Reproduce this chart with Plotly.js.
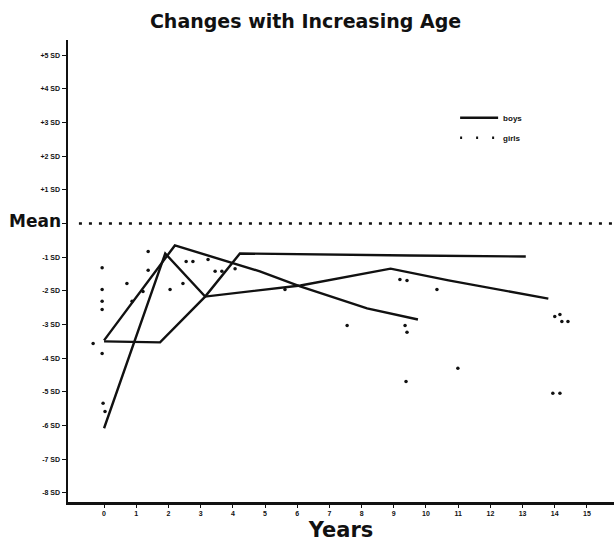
<!DOCTYPE html>
<html><head><meta charset="utf-8">
<script src="https://cdn.plot.ly/plotly-3.0.1.min.js"></script>
<style>html,body{margin:0;padding:0;background:#fff}#chart{width:614px;height:545px}</style>
</head><body><div id="chart"></div>
<script>
// Boys curves (age in years, SD score)
const boysAx = [0, 1.9, 3.14, 4.84, 6.1, 8.9, 10.7, 13.8];
const boysAy = [-6.08, -0.89, -2.17, -1.99, -1.84, -1.34, -1.69, -2.23];
const boysBx = [0, 1.74, 3.14, 4.22, 9.5, 13.1];
const boysBy = [-3.5, -3.53, -2.17, -0.89, -0.95, -0.98];
const boysCx = [0, 2.2, 4.84, 6.09, 8.17, 9.75];
const boysCy = [-3.47, -0.65, -1.42, -1.87, -2.52, -2.85];
// Girls individual points
const girlsX = [1.37, 1.37, -0.06, -0.06, -0.06, -0.06, 0.71, 1.21, 0.87, 2.05, 2.55, 2.76, 3.23, 2.45, 3.45, 3.66, 4.07, -0.34, -0.06, -0.03, 0.03, 5.62, 9.19, 9.41, 10.34, 7.55, 9.35, 9.41, 9.38, 14.0, 14.16, 14.22, 14.41, 10.99, 13.94, 14.16];
const girlsY = [-0.83, -1.39, -1.31, -1.96, -2.31, -2.55, -1.78, -2.02, -2.31, -1.96, -1.13, -1.13, -1.07, -1.78, -1.42, -1.42, -1.34, -3.56, -3.86, -5.34, -5.58, -1.96, -1.66, -1.69, -1.96, -3.03, -3.03, -3.23, -4.69, -2.76, -2.70, -2.91, -2.91, -4.30, -5.04, -5.04];
// Axis ticks
const xTicks = [0,1,2,3,4,5,6,7,8,9,10,11,12,13,14,15];
const yTickVals = [5,4,3,2,1,0,-1,-2,-3,-4,-5,-6,-7,-8];
const yTickText = ['+5 SD','+4 SD','+3 SD','+2 SD','+1 SD','','-1 SD','-2 SD','-3 SD','-4 SD','-5 SD','-6 SD','-7 SD','-8 SD'];

const FONT = 'Liberation Sans, Arial, sans-serif';
const DJ = 'DejaVu Sans, sans-serif';
const lineStyle = {color:'#111', width:2.4};
const traces = [
  {x:boysAx, y:boysAy, mode:'lines', line:lineStyle, name:'<b>boys</b>', legendgroup:'b', showlegend:true},
  {x:boysBx, y:boysBy, mode:'lines', line:lineStyle, name:'boys', legendgroup:'b', showlegend:false},
  {x:boysCx, y:boysCy, mode:'lines', line:lineStyle, name:'boys', legendgroup:'b', showlegend:false},
  {x:girlsX, y:girlsY, mode:'markers', marker:{color:'#111', size:3.5}, name:'girls', showlegend:false},
  {x:[null], y:[null], mode:'lines', line:{color:'#111', width:2.5, dash:'2px,14px'}, name:'<b>girls</b>', showlegend:true}
];
const layout = {
  width:614, height:545,
  margin:{l:68, r:0, t:40, b:43},
  paper_bgcolor:'#fff', plot_bgcolor:'#fff',
  showlegend:true,
  legend:{x:0.709, y:0.863, xanchor:'left', yanchor:'top', font:{family:FONT, size:8, color:'#111'}, bgcolor:'rgba(0,0,0,0)', itemwidth:38, tracegroupgap:1},
  title:{text:'<b>Changes with Increasing Age</b>', x:0.4976, xanchor:'center', y:0.96, yanchor:'middle', font:{family:DJ, size:19, color:'#111'}},
  xaxis:{range:[-1.12, 15.84], tickvals:xTicks, ticktext:xTicks.map(v=>'<b>'+v+'</b>'), showgrid:false, zeroline:false,
         showline:true, linecolor:'#111', linewidth:2.5, ticks:'outside', ticklen:3, tickcolor:'#111',
         tickfont:{family:FONT, size:7, color:'#111'},
         title:{text:'<b>Years</b>', font:{family:DJ, size:21, color:'#111'}, standoff:7}},
  yaxis:{range:[-8.27, 5.45], tickvals:yTickVals, ticktext:yTickText.map(t=>t?'<b>'+t+'</b>':''), showgrid:false, zeroline:false,
         showline:true, linecolor:'#111', linewidth:2.5, ticks:'outside', ticklen:4, tickcolor:'#111',
         tickfont:{family:FONT, size:7, color:'#111'}},
  shapes:[{type:'line', xref:'paper', yref:'y', x0:0.02, x1:1, y0:0, y1:0, line:{color:'#111', width:2.5, dash:'3px,7px'}}],
  annotations:[{text:'<b>Mean</b>', xref:'paper', yref:'y', x:-0.009, y:0.08, xanchor:'right', yanchor:'middle', showarrow:false, font:{family:DJ, size:17, color:'#111'}}]
};
Plotly.newPlot('chart', traces, layout, {displayModeBar:false, staticPlot:true});
</script></body></html>
